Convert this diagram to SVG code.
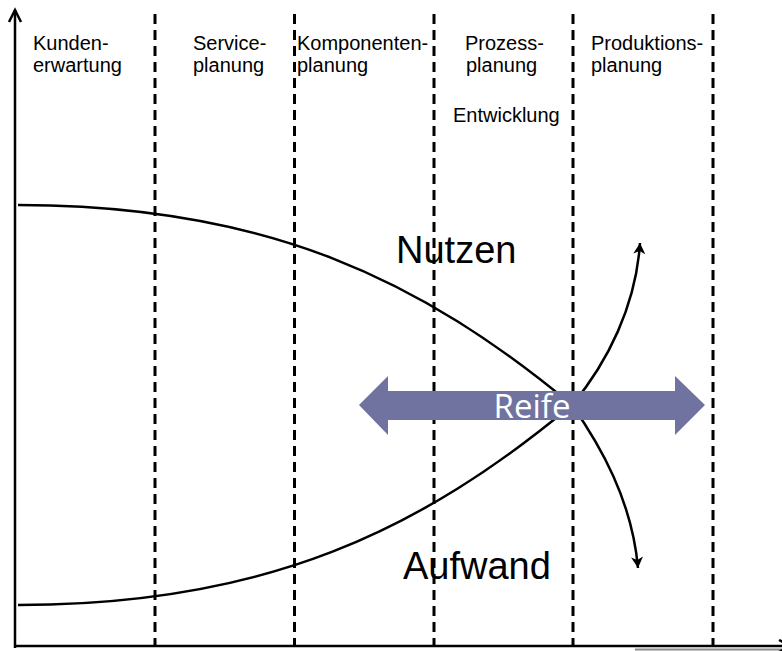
<svg xmlns="http://www.w3.org/2000/svg" width="782" height="651" viewBox="0 0 782 651">
<style>
.lbl{font-family:"Liberation Sans",Arial,sans-serif;font-size:20px;fill:#000}
.big{font-family:"Liberation Sans",Arial,sans-serif;font-size:38px;fill:#000}
.reife{font-family:"Open Sans","Noto Sans",sans-serif;font-size:33px;fill:#fff}
.phase{stroke:#000;stroke-width:3;stroke-dasharray:10 6;fill:none}
.axis{stroke:#000;stroke-width:2.5;fill:none}
.curve{stroke:#000;stroke-width:2.5;fill:none}
</style>
<defs>
<marker id="ah" markerUnits="userSpaceOnUse" markerWidth="14" markerHeight="14" refX="12" refY="7" orient="auto" viewBox="0 0 14 14">
<path d="M1,1 L12,7 L1,13 L4,7 z" fill="#000"/>
</marker>
<marker id="axh" markerUnits="userSpaceOnUse" markerWidth="16" markerHeight="16" refX="13" refY="8" orient="auto" viewBox="0 0 16 16">
<path d="M1,2 L13,8 L1,14" fill="none" stroke="#000" stroke-width="2.5"/>
</marker>
</defs>
<rect width="782" height="651" fill="#fff"/>
<g id="labels">
<g id="phase-kunden"><text class="lbl" x="33" y="50">Kunden-</text><text class="lbl" x="33" y="72">erwartung</text></g>
<g id="phase-service"><text class="lbl" x="193" y="50">Service-</text><text class="lbl" x="193" y="72">planung</text></g>
<g id="phase-komponenten"><text class="lbl" x="297" y="50">Komponenten-</text><text class="lbl" x="297" y="72">planung</text></g>
<g id="phase-prozess"><text class="lbl" x="465" y="50">Prozess-</text><text class="lbl" x="466" y="72">planung</text><text class="lbl" x="453" y="122">Entwicklung</text></g>
<g id="phase-produktion"><text class="lbl" x="591" y="50">Produktions-</text><text class="lbl" x="591" y="72">planung</text></g>
<g id="nutzen-label"><text class="big" x="396" y="263">Nutzen</text></g>
<g id="aufwand-label"><text class="big" x="403" y="579">Aufwand</text></g>
</g>
<g id="phase-lines">
<line class="phase" x1="155" y1="14" x2="155" y2="646"/>
<line class="phase" x1="294.5" y1="14" x2="294.5" y2="646"/>
<line class="phase" x1="434" y1="14" x2="434" y2="646"/>
<line class="phase" x1="573" y1="14" x2="573" y2="646"/>
<line class="phase" x1="713" y1="14" x2="713" y2="646"/>
</g>
<g id="axes">
<line x1="635" y1="649.5" x2="782" y2="649.5" stroke="#8a8a8a" stroke-width="2"/>
<line class="axis" x1="15" y1="648" x2="15" y2="10" marker-end="url(#axh)"/>
<line class="axis" x1="14" y1="646" x2="791" y2="646" marker-end="url(#axh)"/>
</g>
<g id="connectors">
<path id="nutzen-curve" class="curve" d="M18,205 C268,205 422,280.5 572,405 C600,445 632,500 638,568" marker-end="url(#ah)"/>
<path id="aufwand-curve" class="curve" d="M18,605 C268,605 422,529.5 572,405 C608,362 636,305 640,243" marker-end="url(#ah)"/>
</g>
<g id="reife">
<path d="M359,405 L388,376 L388,391 L675,391 L675,376 L705,405 L675,435 L675,420 L388,420 L388,435 z" fill="#7073A0"/>
<text class="reife" x="532" y="418" text-anchor="middle">Reife</text>
</g>
</svg>
